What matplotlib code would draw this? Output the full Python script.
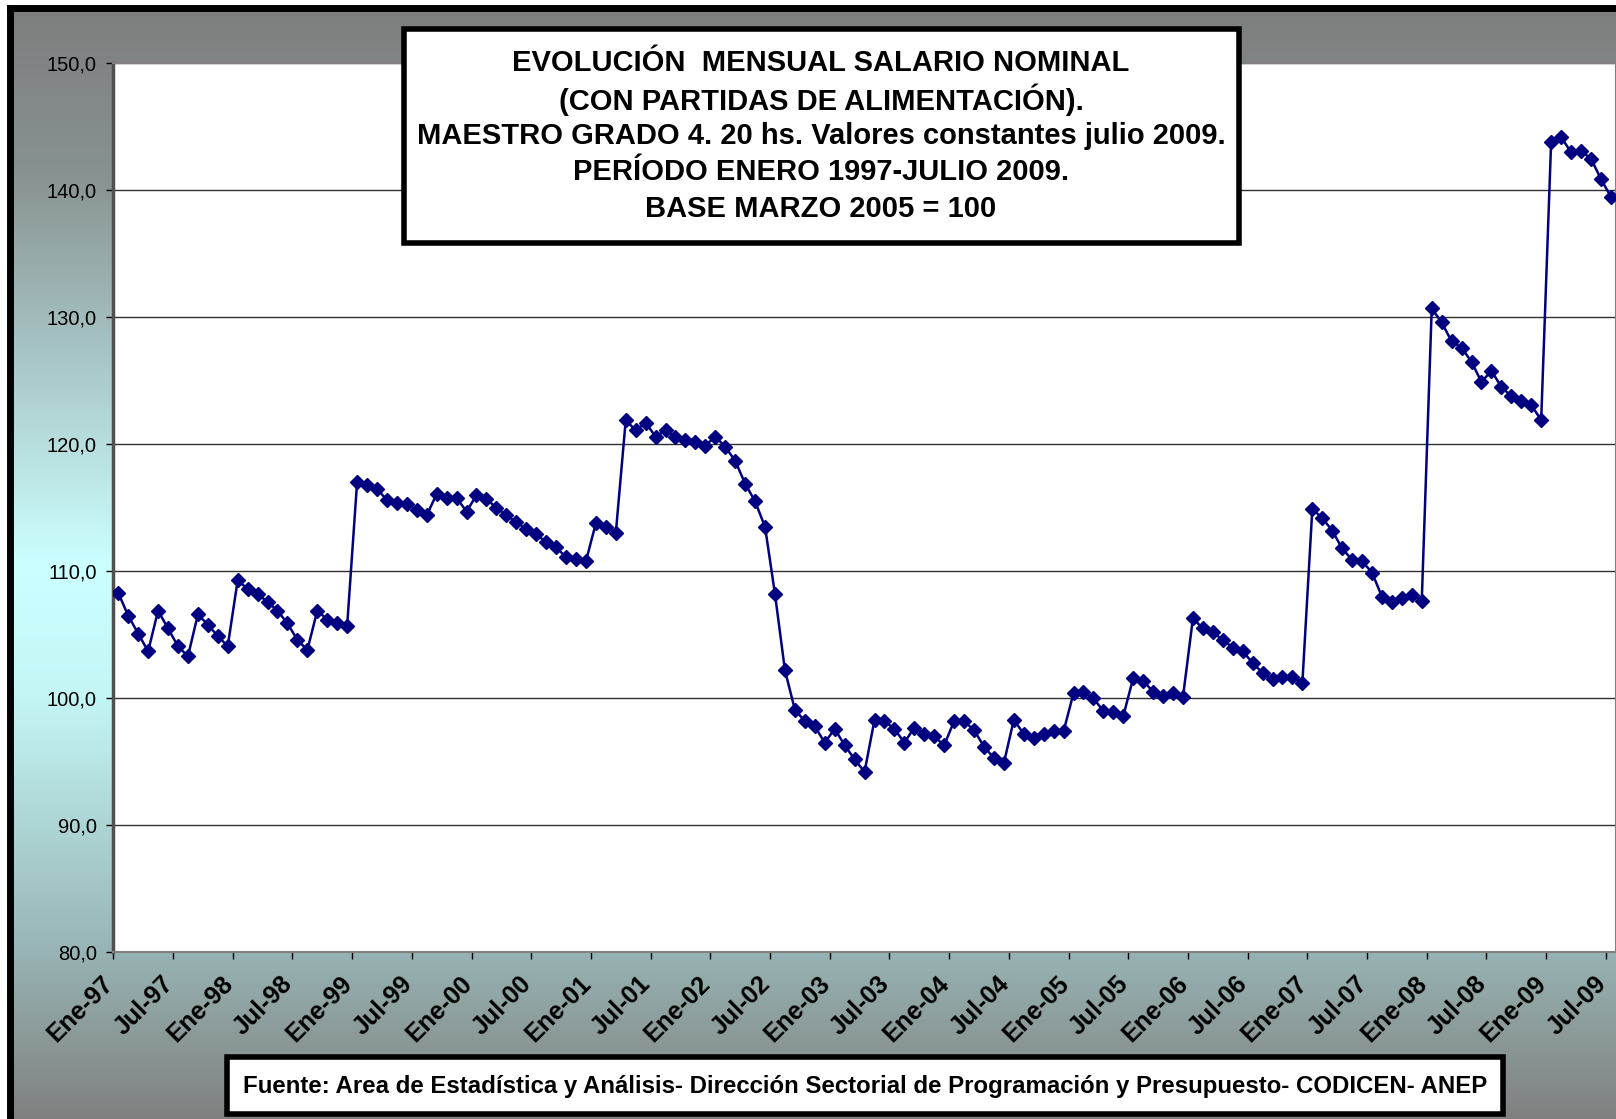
import matplotlib
matplotlib.use("Agg")
import matplotlib.pyplot as plt
import matplotlib.transforms as mtransforms
import numpy as np
from matplotlib.colors import LinearSegmentedColormap
from matplotlib.patches import Rectangle
from matplotlib.ticker import FuncFormatter

plt.rcParams["font.family"] = ["Liberation Sans", "DejaVu Sans"]

W, H = 1616, 1119

# indice mensual ene-1997 .. jul-2009 (base marzo 2005 = 100)
values_1997 = [108.3, 106.5, 105.1, 103.7, 106.9, 105.5, 104.1, 103.3, 106.6, 105.8, 104.9, 104.1]
values_1998 = [109.3, 108.6, 108.2, 107.6, 106.9, 105.9, 104.6, 103.8, 106.9, 106.2, 105.9, 105.7]
values_1999 = [117.0, 116.8, 116.5, 115.6, 115.4, 115.3, 114.8, 114.4, 116.1, 115.8, 115.8, 114.7]
values_2000 = [116.0, 115.7, 115.0, 114.4, 113.9, 113.3, 112.9, 112.3, 111.9, 111.1, 111.0, 110.8]
values_2001 = [113.8, 113.5, 113.0, 121.9, 121.1, 121.7, 120.6, 121.1, 120.6, 120.3, 120.2, 119.9]
values_2002 = [120.6, 119.8, 118.7, 116.9, 115.5, 113.5, 108.2, 102.2, 99.1, 98.2, 97.8, 96.5]
values_2003 = [97.6, 96.3, 95.2, 94.2, 98.3, 98.2, 97.6, 96.5, 97.7, 97.2, 97.0, 96.3]
values_2004 = [98.2, 98.2, 97.5, 96.2, 95.3, 94.9, 98.3, 97.2, 96.9, 97.2, 97.4, 97.4]
values_2005 = [100.4, 100.5, 100.0, 99.0, 98.9, 98.6, 101.6, 101.4, 100.5, 100.2, 100.4, 100.1]
values_2006 = [106.3, 105.5, 105.2, 104.6, 104.0, 103.7, 102.8, 102.0, 101.5, 101.7, 101.7, 101.2]
values_2007 = [114.9, 114.2, 113.2, 111.8, 110.9, 110.8, 109.9, 108.0, 107.6, 107.9, 108.1, 107.7]
values_2008 = [130.7, 129.6, 128.1, 127.6, 126.5, 124.9, 125.8, 124.5, 123.8, 123.4, 123.1, 121.9]
values_2009 = [143.8, 144.2, 143.0, 143.1, 142.5, 140.9, 139.5]

tick_labels = [
    "Ene-97", "Jul-97", "Ene-98", "Jul-98", "Ene-99", "Jul-99", "Ene-00",
    "Jul-00", "Ene-01", "Jul-01", "Ene-02", "Jul-02", "Ene-03", "Jul-03",
    "Ene-04", "Jul-04", "Ene-05", "Jul-05", "Ene-06", "Jul-06", "Ene-07",
    "Jul-07", "Ene-08", "Jul-08", "Ene-09", "Jul-09",
]

title_lines = [
    "EVOLUCIÓN  MENSUAL SALARIO NOMINAL",
    "(CON PARTIDAS DE ALIMENTACIÓN).",
    "MAESTRO GRADO 4. 20 hs. Valores constantes julio 2009.",
    "PERÍODO ENERO 1997-JULIO 2009.",
    "BASE MARZO 2005 = 100",
]
source_text = ("Fuente: Area de Estadística y Análisis- Dirección Sectorial de "
               "Programación y Presupuesto- CODICEN- ANEP")

series = (values_1997 + values_1998 + values_1999 + values_2000 + values_2001
          + values_2002 + values_2003 + values_2004 + values_2005 + values_2006
          + values_2007 + values_2008 + values_2009)
x = np.arange(len(series))


def fx(px):
    return px / W


def fy(py):
    return 1 - py / H


fig = plt.figure(figsize=(W / 100, H / 100), dpi=100, facecolor="white")

# fondo degradado gris / celeste
bg = fig.add_axes([fx(10), 0, 1, fy(8)], zorder=-10)
grad = LinearSegmentedColormap.from_list(
    "bg", [(0.0, "#7e7e7e"), (0.14, "#879090"), (0.5, "#ccffff"),
           (0.62, "#c4f6f6"), (0.85, "#98b4b4"), (1.0, "#808080")])
bg.imshow(np.linspace(0, 1, 256).reshape(-1, 1), aspect="auto", cmap=grad,
          extent=(0, 1, 0, 1))
bg.set_xticks([])
bg.set_yticks([])
for side in ["right", "bottom"]:
    bg.spines[side].set_visible(False)
for side in ["left", "top"]:
    bg.spines[side].set_linewidth(5)
    bg.spines[side].set_color("black")

ax = fig.add_axes([fx(113.3), fy(952.3), fx(1615.8 - 113.3), (952.3 - 63.3) / H])
ax.set_facecolor("white")
ax.plot(x, series, color="#000080", lw=1.8, marker="D", markersize=7.5,
        markerfacecolor="#000080", markeredgecolor="#000080", zorder=3)

ax.set_ylim(80, 150)
ax.set_yticks(np.arange(80, 151, 10))
ax.yaxis.set_major_formatter(FuncFormatter(lambda v, _: f"{v:.1f}".replace(".", ",")))
ax.grid(axis="y", color="#303030", lw=1)
ax.set_axisbelow(True)

ax.set_xlim(-0.5, len(series) - 0.5)
ax.set_xticks(np.arange(-0.5, len(series), 6))
ax.set_xticklabels([])
ax.set_xticks(np.arange(0, len(series), 6), minor=True)
ax.set_xticklabels(tick_labels, minor=True, rotation=45, ha="right", va="top",
                   rotation_mode="anchor", fontsize=18, fontweight="bold")
ax.tick_params(axis="x", which="minor", length=0, pad=14)
ax.tick_params(axis="x", which="major", length=5, width=1, direction="out")
ax.tick_params(axis="y", length=5, width=1, pad=7, labelsize=14.5)

shift = mtransforms.ScaledTranslation(-17 / 100, 0, fig.dpi_scale_trans)
for lbl in ax.get_xticklabels(minor=True):
    lbl.set_transform(lbl.get_transform() + shift)

for side in ["top", "right", "bottom"]:
    ax.spines[side].set_color("#808080")
    ax.spines[side].set_linewidth(1.5)
ax.spines["left"].set_color("#505050")
ax.spines["left"].set_linewidth(2.5)

# recuadro del titulo
fig.patches.append(Rectangle((fx(404), fy(243)), fx(1239 - 404), (243 - 29) / H,
                             transform=fig.transFigure, facecolor="white",
                             edgecolor="black", lw=4, zorder=5))
title_y = [63, 100, 136, 172, 209]
for line, py in zip(title_lines, title_y):
    fig.text(fx(821), fy(py), line, ha="center", va="center", fontsize=21,
             fontweight="bold", zorder=6)

# recuadro de la fuente
fig.patches.append(Rectangle((fx(227), fy(1114)), fx(1503 - 227), (1114 - 1057) / H,
                             transform=fig.transFigure, facecolor="white",
                             edgecolor="black", lw=4, zorder=5))
fig.text(fx(865), fy(1086), source_text, ha="center", va="center", fontsize=17.3,
         fontweight="bold", zorder=6)

fig.savefig("out.png", dpi=100)
